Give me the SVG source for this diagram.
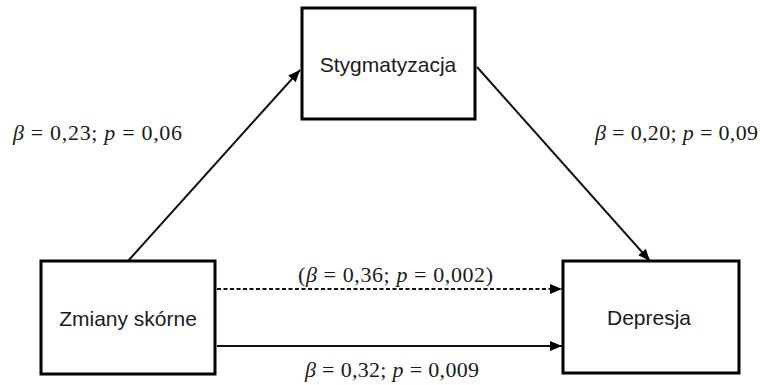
<svg xmlns="http://www.w3.org/2000/svg" width="760" height="385" viewBox="0 0 760 385">
  <style>
    .box { fill: #fff; stroke: #000; stroke-width: 3; }
    .lbl { font-family: "Liberation Sans", Arial, sans-serif; font-size: 21px; fill: #1a1a1a; text-anchor: middle; }
    .stat { font-family: "Liberation Serif", "Times New Roman", serif; font-size: 22px; fill: #1a1a1a; }
    .edge { stroke: #111; stroke-width: 2; fill: none; }
    .dash { stroke-dasharray: 4 2.5; }
  </style>
  <defs>
    <marker id="arr" viewBox="0 0 12 10" refX="12" refY="5" markerWidth="12" markerHeight="10" markerUnits="userSpaceOnUse" orient="auto">
      <path d="M0,0 L12,5 L0,10 Z" fill="#000"/>
    </marker>
  </defs>
  <g id="connectors">
    <line class="edge" x1="128" y1="261" x2="300" y2="70" marker-end="url(#arr)"/>
    <line class="edge" x1="477" y1="67" x2="650" y2="261" marker-end="url(#arr)"/>
    <line class="edge dash" x1="217" y1="289" x2="562" y2="289" marker-end="url(#arr)"/>
    <line class="edge" x1="217" y1="346" x2="562" y2="346" marker-end="url(#arr)"/>
  </g>
  <g id="stygmatyzacja">
    <rect class="box" x="302" y="8" width="173" height="111"/>
    <text class="lbl" x="388" y="72">Stygmatyzacja</text>
  </g>
  <g id="zmiany">
    <rect class="box" x="41" y="261" width="174" height="113"/>
    <text class="lbl" x="128" y="326">Zmiany skórne</text>
  </g>
  <g id="depresja">
    <rect class="box" x="563" y="261" width="176" height="112"/>
    <text class="lbl" x="649" y="325">Depresja</text>
  </g>
  <g id="labels">
    <text class="stat" x="13" y="140" textLength="169" lengthAdjust="spacing"><tspan font-style="italic">β</tspan> = 0,23; <tspan font-style="italic">p</tspan> = 0,06</text>
    <text class="stat" x="595" y="140" textLength="163" lengthAdjust="spacing"><tspan font-style="italic">β</tspan> = 0,20; <tspan font-style="italic">p</tspan> = 0,09</text>
    <text class="stat" x="298" y="282" textLength="195" lengthAdjust="spacing">(<tspan font-style="italic">β</tspan> = 0,36; <tspan font-style="italic">p</tspan> = 0,002)</text>
    <text class="stat" x="305" y="377" textLength="174" lengthAdjust="spacing"><tspan font-style="italic">β</tspan> = 0,32; <tspan font-style="italic">p</tspan> = 0,009</text>
  </g>
</svg>
